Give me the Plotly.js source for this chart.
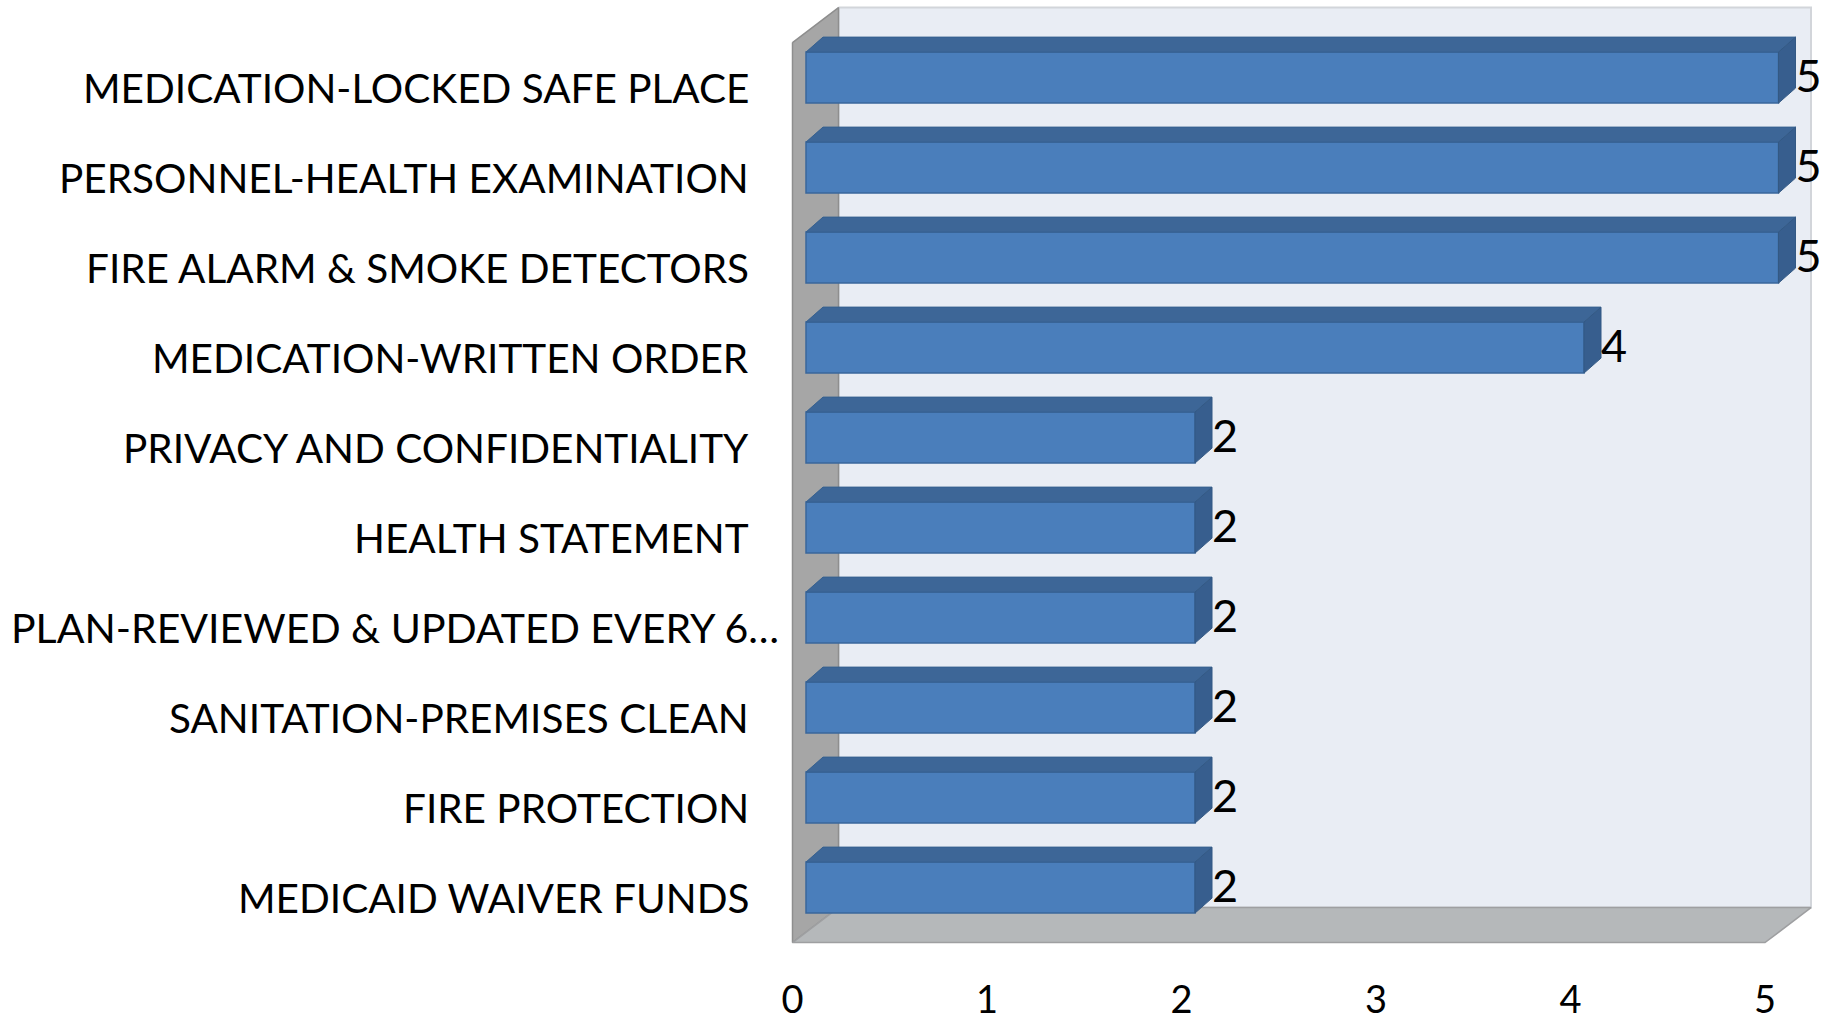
<!DOCTYPE html>
<html>
<head>
<meta charset="utf-8">
<script src="https://cdn.plot.ly/plotly-3.0.1.min.js"></script>
<style>
  html, body { margin: 0; padding: 0; background: #ffffff; }
  #chart { width: 1832px; height: 1021px; }
</style>
</head>
<body>
<div id="chart"></div>
<script>
// ---- data ----
const categories = [
  "MEDICATION-LOCKED SAFE PLACE",
  "PERSONNEL-HEALTH EXAMINATION",
  "FIRE ALARM & SMOKE DETECTORS",
  "MEDICATION-WRITTEN ORDER",
  "PRIVACY AND CONFIDENTIALITY",
  "HEALTH STATEMENT",
  "PLAN-REVIEWED & UPDATED EVERY 6\u2026",
  "SANITATION-PREMISES CLEAN",
  "FIRE PROTECTION",
  "MEDICAID WAIVER FUNDS"
];
const values = [5, 5, 5, 4, 2, 2, 2, 2, 2, 2];
const xTickValues = [0, 1, 2, 3, 4, 5];
const xTickLabels = ["0", "1", "2", "3", "4", "5"];

// ---- geometry (pixel layout of the 3-D look) ----
const W = 1832, H = 1021;
const L = 785, R = 1820, T = 0, B = 945;           // plot area in px
const pxPerUnit = 194.5;                           // value axis scale
const pxPerCat = 90;                               // category pitch
const x0px = 792.5;                                // value 0 on the front plane
const cat0px = 87.6;                               // first category on the front plane
const wallDx = 46 / pxPerUnit, wallDy = 35 / pxPerCat;   // depth of the walls
const barDxPx = 13.5, barDyPx = 10;                // offset of the bar front face
const topDx = 17 / pxPerUnit, topDy = 15 / pxPerCat;     // depth of each bar
const barW = 51 / pxPerCat;
const hw = barW / 2;
const labelDrop = 3.5 / pxPerCat;                  // value label vertical nudge
const n = categories.length;
const xMax = xTickValues[xTickValues.length - 1];

const plotW = R - L, plotH = B - T;
const xr0 = (L - x0px) / pxPerUnit, xr1 = xr0 + plotW / pxPerUnit;
const yTop = (T - cat0px) / pxPerCat, yBot = yTop + plotH / pxPerCat;
const x2r0 = (L - (x0px + barDxPx)) / pxPerUnit, x2r1 = x2r0 + plotW / pxPerUnit;
const y2Top = (T - (cat0px - barDyPx)) / pxPerCat, y2Bot = y2Top + plotH / pxPerCat;

const idx = categories.map((c, i) => i);
const font = "Lato, 'Noto Sans', sans-serif";

// ---- walls (front plane x: 0..xMax, y: -0.5..n-0.5) ----
const yt = -0.5, yb = n - 0.5;
const backWall = {
  x: [wallDx, xMax + wallDx, xMax + wallDx, wallDx, wallDx],
  y: [yt - wallDy, yt - wallDy, yb - wallDy, yb - wallDy, yt - wallDy],
  type: 'scatter', mode: 'lines', fill: 'toself',
  fillcolor: '#E9EDF4', line: { color: '#D2D5DA', width: 2 },
  hoverinfo: 'skip', showlegend: false
};
const leftWall = {
  x: [0, wallDx, wallDx, 0, 0],
  y: [yt, yt - wallDy, yb - wallDy, yb, yt],
  type: 'scatter', mode: 'lines', fill: 'toself',
  fillcolor: '#A6A6A6', line: { color: '#8E8E8E', width: 1.5 },
  hoverinfo: 'skip', showlegend: false
};
const floor = {
  x: [0, wallDx, xMax + wallDx, xMax, 0],
  y: [yb, yb - wallDy, yb - wallDy, yb, yb],
  type: 'scatter', mode: 'lines', fill: 'toself',
  fillcolor: '#B5B8BA', line: { color: '#9E9FA1', width: 1.5 },
  hoverinfo: 'skip', showlegend: false
};

// ---- bars ----
const barFront = {
  type: 'bar', orientation: 'h',
  x: values, y: idx, width: barW,
  xaxis: 'x2', yaxis: 'y2',
  marker: { color: '#4A7EBB', line: { color: '#3A679C', width: 1.5 } },
  hoverinfo: 'skip', showlegend: false
};
const topX = [], topY = [], sideX = [], sideY = [];
values.forEach((v, i) => {
  const a = i - hw, b = i + hw;
  topX.push(0, v, v + topDx, topDx, 0, null);
  topY.push(a, a, a - topDy, a - topDy, a, null);
  sideX.push(v, v + topDx, v + topDx, v, v, null);
  sideY.push(a, a - topDy, b - topDy, b, a, null);
});
const barTop = {
  type: 'scatter', mode: 'lines', x: topX, y: topY, fill: 'toself',
  fillcolor: '#3D6697', line: { color: '#36608F', width: 1 },
  xaxis: 'x2', yaxis: 'y2', hoverinfo: 'skip', showlegend: false
};
const barSide = {
  type: 'scatter', mode: 'lines', x: sideX, y: sideY, fill: 'toself',
  fillcolor: '#375E8E', line: { color: '#335984', width: 1 },
  xaxis: 'x2', yaxis: 'y2', hoverinfo: 'skip', showlegend: false
};
const valueLabels = {
  type: 'scatter', mode: 'text',
  x: values.map(v => v + topDx), y: idx.map(i => i + labelDrop),
  text: values.map(v => String(v)),
  textposition: 'middle right',
  textfont: { family: font, size: 45, color: '#000000' },
  cliponaxis: false,
  xaxis: 'x2', yaxis: 'y2', hoverinfo: 'skip', showlegend: false
};

// ---- category labels ----
const labelRightPx = 751, labelLeftPx = 9;
const annotations = categories.map((c, i) => {
  const truncated = c.endsWith('\u2026');
  const px = truncated ? labelLeftPx : labelRightPx;
  return {
    text: c, xref: 'paper', yref: 'y',
    x: (px - L) / plotW, y: i,
    xanchor: truncated ? 'left' : 'right', yanchor: 'middle',
    showarrow: false,
    font: { family: font, size: truncated ? 41 : 40.5, color: '#000000' }
  };
});

const layout = {
  width: W, height: H,
  margin: { l: L, r: W - R, t: T, b: H - B, pad: 0 },
  paper_bgcolor: '#ffffff', plot_bgcolor: 'rgba(0,0,0,0)',
  showlegend: false,
  xaxis: {
    range: [xr0, xr1], tickvals: xTickValues, ticktext: xTickLabels,
    showgrid: false, zeroline: false, showline: false,
    ticks: 'outside', ticklen: 21, tickcolor: 'rgba(0,0,0,0)',
    tickfont: { family: font, size: 38, color: '#000000' },
    fixedrange: true
  },
  yaxis: {
    range: [yBot, yTop], showticklabels: false,
    showgrid: false, zeroline: false, showline: false, fixedrange: true
  },
  xaxis2: { overlaying: 'x', anchor: 'y2', range: [x2r0, x2r1], visible: false, fixedrange: true },
  yaxis2: { overlaying: 'y', anchor: 'x2', range: [y2Bot, y2Top], visible: false, fixedrange: true },
  annotations: annotations
};

Plotly.newPlot('chart', [backWall, leftWall, floor, barFront, barTop, barSide, valueLabels], layout,
  { displayModeBar: false, staticPlot: true });
</script>
</body>
</html>
